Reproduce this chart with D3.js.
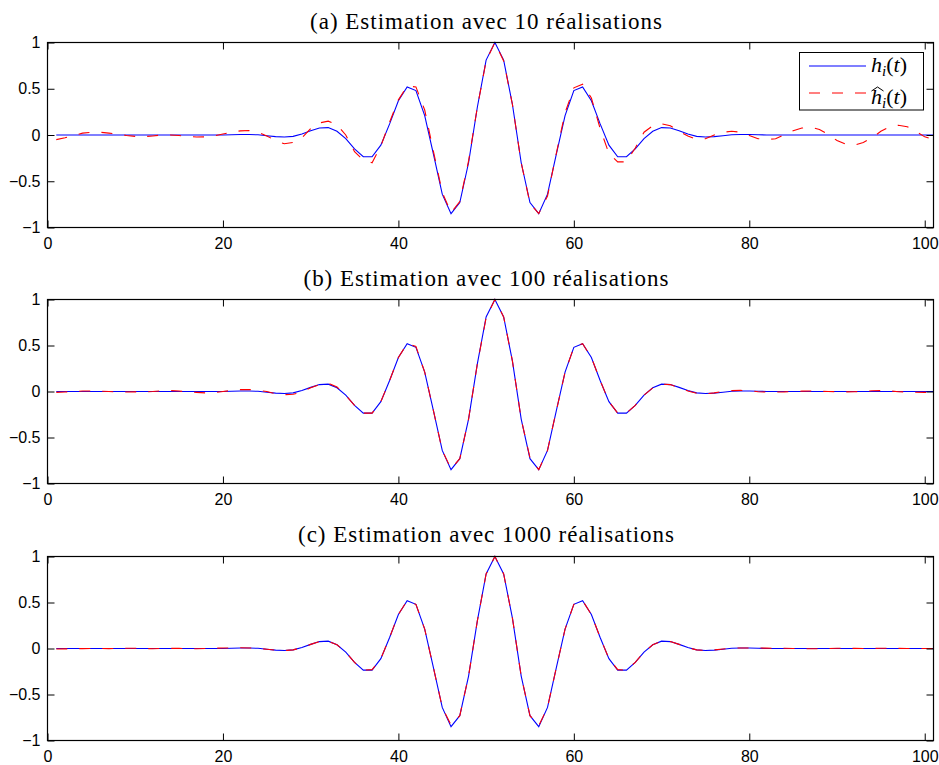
<!DOCTYPE html>
<html>
<head>
<meta charset="utf-8">
<script src="https://cdn.jsdelivr.net/npm/d3@7"></script>
<style>
  html, body { margin: 0; padding: 0; background: #fff; }
  svg { display: block; }
</style>
</head>
<body>
<svg id="chart" width="939" height="765"></svg>
<script>
// ---------- DATA ----------
const tValues = d3.range(1, 102);               // t = 1 .. 101
const xTicks = [0, 20, 40, 60, 80, 100];
const yTicks = [-1, -0.5, 0, 0.5, 1];
const titles = [
  "(a) Estimation avec 10 réalisations",
  "(b) Estimation avec 100 réalisations",
  "(c) Estimation avec 1000 réalisations"
];
const titleWidths = [352, 365, 376];

// true impulse response h_i(t)
const hTrue = [
  0,0,0,0,0,0,0,0,0,0, 0,0,0,0,0,0,0,0,0,0,
  0.003,0.005,0.005,0.002,-0.008,-0.018,-0.022,-0.015,0.01,0.045,
  0.075,0.08,0.04,-0.04,-0.15,-0.235,-0.235,-0.11,0.12,0.37,
  0.52,0.48,0.21,-0.21,-0.64,-0.85,-0.73,-0.3,0.3,0.81,
  1.0,0.81,0.33,-0.3,-0.73,-0.85,-0.64,-0.21,0.21,0.48,
  0.52,0.37,0.12,-0.11,-0.235,-0.235,-0.15,-0.04,0.04,0.08,
  0.075,0.045,0.01,-0.015,-0.022,-0.018,-0.008,0.002,0.005,0.005,
  0.003,
  0,0,0,0,0,0,0,0,0,0, 0,0,0,0,0,0,0,0,0,0
];

// estimate with 10 realisations
const hEst10 = [
  -0.05,-0.03,-0.005,0.02,0.03,0.03,0.02,0.01,-0.005,-0.015,
  -0.018,-0.01,0.0,0.0,-0.005,-0.015,-0.022,-0.02,-0.01,0.01,
  0.03,0.045,0.048,0.03,-0.01,-0.06,-0.095,-0.08,-0.03,0.07,
  0.13,0.15,0.11,0.0,-0.18,-0.27,-0.30,-0.12,0.14,0.38,
  0.53,0.52,0.27,-0.18,-0.62,-0.84,-0.72,-0.28,0.3,0.8,
  1.0,0.8,0.33,-0.3,-0.74,-0.85,-0.66,-0.2,0.24,0.51,
  0.55,0.4,0.07,-0.2,-0.29,-0.29,-0.14,0.03,0.1,0.12,
  0.1,0.04,-0.01,-0.05,-0.04,0.0,0.03,0.04,0.03,-0.005,
  -0.04,-0.05,-0.04,0.005,0.045,0.075,0.085,0.06,0.005,-0.06,
  -0.1,-0.11,-0.08,-0.03,0.04,0.09,0.105,0.09,0.04,-0.02,
  -0.05
];

// estimate with 100 realisations
const hEst100 = [
  -0.01,-0.005,0.0,0.005,0.006,0.004,0.0,-0.005,-0.006,-0.004,
  -0.004,0.0,0.008,0.01,0.005,-0.004,-0.01,-0.015,-0.012,0.0,
  0.012,0.02,0.02,0.012,0.0,-0.025,-0.035,-0.03,-0.005,0.04,
  0.075,0.09,0.05,-0.04,-0.15,-0.235,-0.235,-0.11,0.12,0.37,
  0.52,0.49,0.21,-0.21,-0.64,-0.84,-0.73,-0.3,0.3,0.8,
  1.0,0.81,0.33,-0.3,-0.72,-0.85,-0.64,-0.21,0.21,0.48,
  0.52,0.37,0.12,-0.11,-0.235,-0.235,-0.15,-0.04,0.04,0.08,
  0.075,0.04,0.005,-0.02,-0.025,-0.015,0.0,0.01,0.012,0.008,
  -0.002,-0.006,-0.005,-0.004,0.0,0.004,0.005,0.002,0.0,-0.002,
  -0.004,-0.003,0.002,0.008,0.01,0.006,-0.002,-0.006,-0.008,-0.01,
  -0.01
];

// estimate with 1000 realisations
const hEst1000 = [
  -0.006,-0.004,-0.003,-0.001,0.0,0.0,-0.001,0.0,0.002,0.002,
  0.0,-0.002,0.0,0.002,0.001,-0.002,-0.003,0.0,0.003,0.005,
  0.007,0.008,0.006,0.001,-0.008,-0.018,-0.022,-0.015,0.01,0.045,
  0.075,0.08,0.04,-0.04,-0.15,-0.235,-0.23,-0.11,0.12,0.37,
  0.52,0.48,0.21,-0.21,-0.64,-0.83,-0.73,-0.3,0.3,0.81,
  1.0,0.81,0.33,-0.3,-0.73,-0.84,-0.64,-0.21,0.21,0.48,
  0.52,0.37,0.12,-0.11,-0.23,-0.235,-0.15,-0.04,0.04,0.08,
  0.075,0.045,0.01,-0.015,-0.02,-0.015,-0.006,0.003,0.006,0.006,
  0.005,0.004,0.003,0.002,0.0,-0.002,-0.003,-0.002,0.0,0.002,
  0.002,0.001,0.0,0.001,0.002,0.002,0.001,0.0,0.0,0.0,
  0.0
];

const estimates = [hEst10, hEst100, hEst1000];

// ---------- LAYOUT ----------
const svg = d3.select("#chart");
const left = 47.5, right = 933.5;
const panels = [
  { top: 42.5,  bottom: 227.5, titleY: 29 },
  { top: 299.5, bottom: 483.5, titleY: 286 },
  { top: 556.5, bottom: 740.5, titleY: 542 }
];
const tickLen = 7;
const fmt = d => (d < 0 ? "\u2212" : "") + Math.abs(d);

const x = d3.scaleLinear().domain([0, 101]).range([left, right]);

panels.forEach((p, i) => {
  const y = d3.scaleLinear().domain([-1, 1]).range([p.bottom, p.top]);
  const g = svg.append("g");

  g.append("rect").attr("x", left).attr("y", p.top)
    .attr("width", right - left).attr("height", p.bottom - p.top)
    .attr("fill", "#fff");

  const line = d3.line().x((d, k) => x(tValues[k])).y(d => y(d));

  const clipId = "clip" + i;
  g.append("clipPath").attr("id", clipId).append("rect")
    .attr("x", left).attr("y", p.top - 2).attr("width", right - left).attr("height", p.bottom - p.top + 4);

  const plot = g.append("g").attr("clip-path", `url(#${clipId})`);
  plot.append("path").datum(hTrue).attr("d", line)
    .attr("fill", "none").attr("stroke", "#0000ff").attr("stroke-width", 1.1);
  plot.append("path").datum(estimates[i]).attr("d", line)
    .attr("fill", "none").attr("stroke", "#ff0000").attr("stroke-width", 1.1)
    .attr("stroke-dasharray", "11,12");

  const ax = g.append("g").attr("font-family", "'Liberation Sans', Arial, Helvetica, sans-serif");
  const bottomAxis = d3.axisBottom(x).tickValues(xTicks).tickSize(-tickLen).tickPadding(10).tickFormat(d3.format("d"));
  const topAxis = d3.axisTop(x).tickValues(xTicks).tickSize(-tickLen).tickFormat("");
  const leftAxis = d3.axisLeft(y).tickValues(yTicks).tickSize(-tickLen).tickPadding(7).tickFormat(fmt);
  const rightAxis = d3.axisRight(y).tickValues(yTicks).tickSize(-tickLen).tickFormat("");

  const gb = ax.append("g").attr("transform", `translate(0,${p.bottom})`).call(bottomAxis);
  const gt = ax.append("g").attr("transform", `translate(0,${p.top})`).call(topAxis);
  const gl = ax.append("g").attr("transform", `translate(${left},0)`).call(leftAxis);
  const gr = ax.append("g").attr("transform", `translate(${right},0)`).call(rightAxis);
  [gb, gt, gl, gr].forEach(a => {
    a.select(".domain").remove();
    a.selectAll(".tick line").attr("stroke", "#000").attr("stroke-width", 1);
    a.selectAll(".tick text").attr("fill", "#000").attr("font-size", 16);
  });

  g.append("rect").attr("x", left).attr("y", p.top)
    .attr("width", right - left).attr("height", p.bottom - p.top)
    .attr("fill", "none").attr("stroke", "#000").attr("stroke-width", 1.2);

  svg.append("text").attr("x", 486).attr("y", p.titleY)
    .attr("text-anchor", "middle")
    .attr("font-family", "'Liberation Serif', 'DejaVu Serif', serif")
    .attr("font-size", 23).attr("fill", "#000")
    .attr("textLength", titleWidths[i]).attr("lengthAdjust", "spacing")
    .text(titles[i]);
});

// ---------- LEGEND (panel a) ----------
const lg = svg.append("g");
lg.append("rect").attr("x", 799.5).attr("y", 52.5).attr("width", 124).attr("height", 57.5)
  .attr("fill", "#fff").attr("stroke", "#000").attr("stroke-width", 1);
lg.append("line").attr("x1", 809).attr("x2", 866).attr("y1", 66).attr("y2", 66)
  .attr("stroke", "#0000ff").attr("stroke-width", 1.1);
lg.append("line").attr("x1", 809).attr("x2", 866).attr("y1", 93).attr("y2", 93)
  .attr("stroke", "#ff0000").attr("stroke-width", 1.1).attr("stroke-dasharray", "11,12");

function legendLabel(yBase) {
  const t = lg.append("text").attr("x", 871).attr("y", yBase)
    .attr("font-family", "'Liberation Serif', 'DejaVu Serif', serif")
    .attr("font-size", 22).attr("fill", "#000");
  t.append("tspan").attr("font-style", "italic").text("h");
  t.append("tspan").attr("font-style", "italic").attr("font-size", 15).attr("dy", 4).text("i");
  t.append("tspan").attr("dy", -4).text("(");
  t.append("tspan").attr("font-style", "italic").text("t");
  t.append("tspan").text(")");
}
legendLabel(72);
legendLabel(104);
lg.append("path").attr("d", "M871.5,91 L877.5,87 L883.5,91")
  .attr("fill", "none").attr("stroke", "#000").attr("stroke-width", 1);
</script>
</body>
</html>
